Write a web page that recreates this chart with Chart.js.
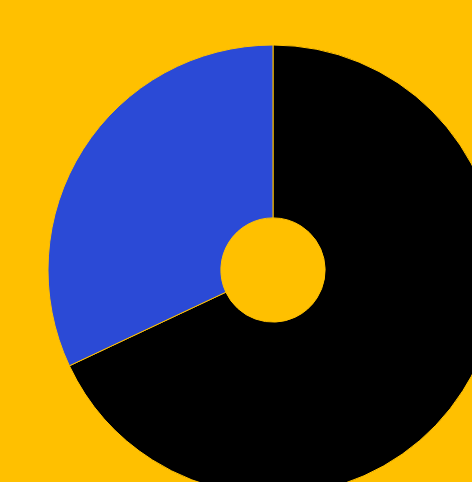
<!DOCTYPE html>
<html>
<head>
<meta charset="utf-8">
<script src="https://cdn.jsdelivr.net/npm/chart.js@4"></script>
<style>
    html, body { margin: 0; padding: 0; }
    body {
        width: 472px;
        height: 482px;
        overflow: hidden;
        background: #FFC000;
        position: relative;
    }
    #wrap {
        position: absolute;
        left: 48px;
        top: 45px;
        width: 450px;
        height: 450px;
    }
</style>
</head>
<body>
<div id="wrap"><canvas id="ring"></canvas></div>
<script>
// Two slices (about 68% / 32%)
let labels = ["A", "B"];
let values = [68, 32];
let colors = ["#000000", "#2B4AD6"];

new Chart("ring", {
    type: "doughnut",
    data: {
        labels: labels,
        datasets: [{
            data: values,
            backgroundColor: colors,
            borderColor: "#FFC000",
            borderWidth: 1
        }]
    },
    options: {
        animation: false,
        responsive: true,
        maintainAspectRatio: false,
        radius: 225,
        cutout: 52,
        plugins: {
            legend: { display: false },
            tooltip: { enabled: false }
        }
    }
});
</script>
</body>
</html>
